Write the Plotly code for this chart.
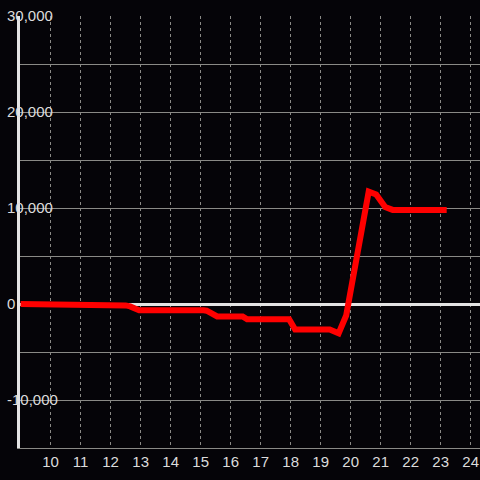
import plotly.graph_objects as go

# data
x_vals = [9.0, 11.0, 11.2, 12.5, 12.65, 12.95, 15.1, 15.2, 15.55, 16.4, 16.55,
          17.95, 18.15, 19.3, 19.6, 19.85, 20.6, 20.85, 21.15, 21.4, 23.2]
y_vals = [0, 0, -150, -150, -250, -650, -650, -700, -1300, -1300, -1600,
          -1600, -2650, -2650, -3050, -1200, 11700, 11400, 10100, 9800, 9800]

x_ticks = list(range(10, 25))
x_ticktext = [str(v) for v in x_ticks]
y_ticks = [-10000, -5000, 0, 5000, 10000, 15000, 20000, 25000, 30000]
y_ticktext = ["-10,000", "", "0", "", "10,000", "", "20,000", "", "30,000"]

BG = "#050408"
FONT = dict(family="Liberation Sans, Arial, sans-serif", size=15, color="#dcdcdc")

fig = go.Figure()
fig.add_trace(go.Scatter(
    x=x_vals, y=y_vals, mode="lines",
    line=dict(color="#ff0000", width=6),
    hoverinfo="skip", showlegend=False,
))

fig.update_layout(
    width=480, height=480,
    margin=dict(l=20, r=0, t=16, b=32, autoexpand=False),
    paper_bgcolor=BG, plot_bgcolor=BG,
    font=FONT,
    showlegend=False,
)
fig.update_xaxes(
    range=[8.98, 24.31],
    tickvals=x_ticks, ticktext=x_ticktext,
    showgrid=True, gridcolor="#8a8a86", gridwidth=1, griddash="3px,3px",
    showline=True, linecolor="#8a8a86", linewidth=1,
    zeroline=False, ticks="", tickfont=FONT, automargin=False,
)
fig.update_yaxes(
    range=[-15000, 30000],
    tickvals=y_ticks, ticktext=y_ticktext,
    showgrid=True, gridcolor="#8a8a86", gridwidth=1,
    zeroline=True, zerolinecolor="#e4e4e4", zerolinewidth=3,
    showline=True, linecolor="#e4e4e4", linewidth=3,
    ticks="", tickfont=FONT, automargin=False,
    ticklabelposition="inside", ticklabelstandoff=-13,
    ticklabeloverflow="allow",
)

fig.write_html(
    "out.html",
    config={"displayModeBar": False},
    post_script="document.body.style.margin='0px';"
                "document.body.style.overflow='hidden';"
                "document.body.style.background='#050408';",
)
